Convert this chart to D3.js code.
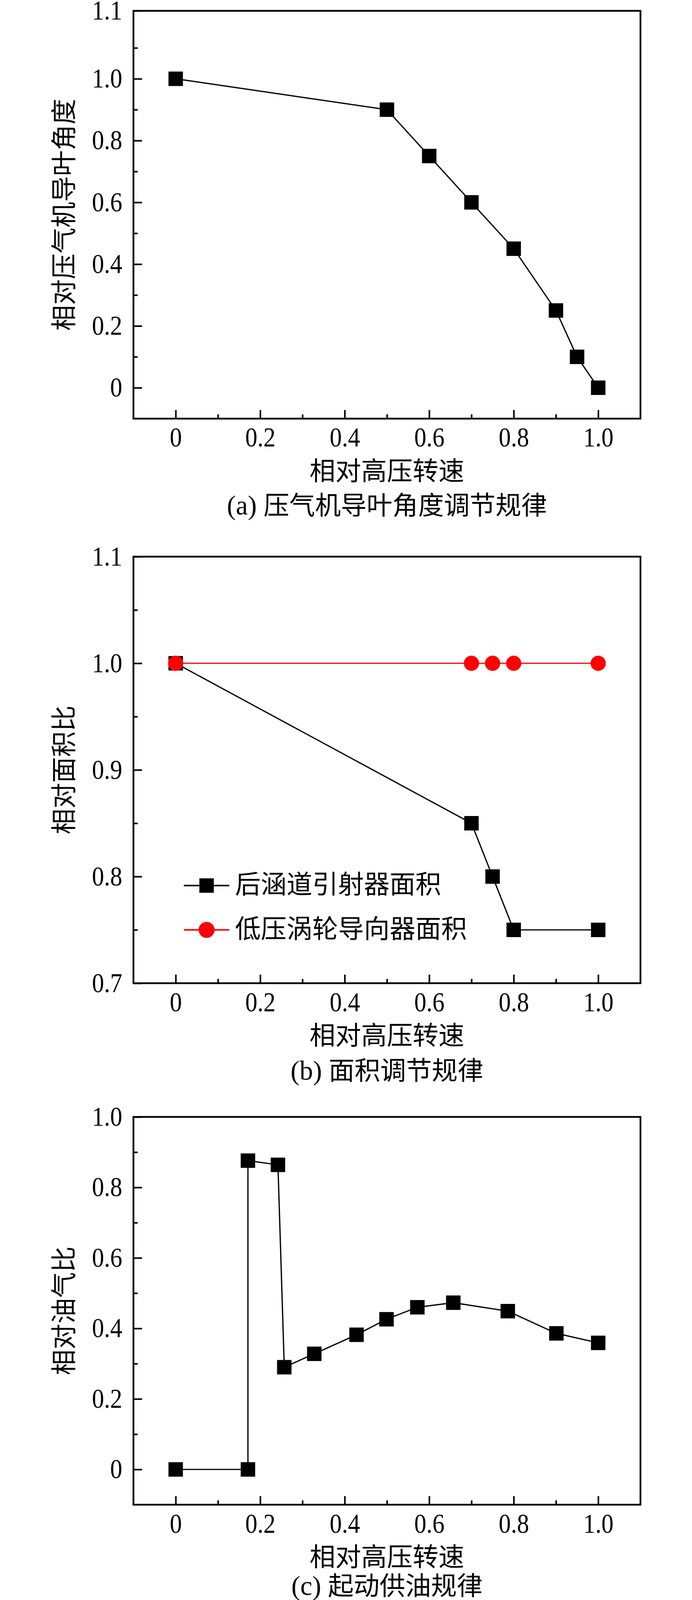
<!DOCTYPE html>
<html>
<head>
<meta charset="utf-8">
<script src="https://cdn.jsdelivr.net/npm/d3@7"></script>
<style>
  body { margin: 0; background: #fff; overflow: hidden; }
  svg { display: block; }
</style>
</head>
<body>
<div id="chart"></div>
<script>
// panel (a) compressor vane angle
const speedA = [0, 0.5, 0.6, 0.7, 0.8, 0.9, 0.95, 1.0];
const vaneA = [1.0, 0.9, 0.75, 0.6, 0.45, 0.25, 0.1, 0];

// panel (b) area schedules
const speedB = [0, 0.7, 0.75, 0.8, 1.0];
const ejectorB = [1.0, 0.85, 0.8, 0.75, 0.75];
const turbineB = [1.0, 1.0, 1.0, 1.0, 1.0];
const seriesNamesB = ['后涵道引射器面积', '低压涡轮导向器面积'];

// panel (c) start fuel schedule
const speedC = [0, 0.171, 0.171, 0.242, 0.257, 0.328, 0.428, 0.499, 0.572, 0.657, 0.786, 0.901, 1.0];
const fuelC = [0, 0, 0.876, 0.864, 0.290, 0.328, 0.382, 0.426, 0.460, 0.473, 0.449, 0.386, 0.359];

// ticks
const xMajor = [0, 0.2, 0.4, 0.6, 0.8, 1.0];
const xMinor = [0.1, 0.3, 0.5, 0.7, 0.9];
const yMajorA = [0, 0.2, 0.4, 0.6, 0.8, 1.0, 1.22];
const yLabelsA = ['0', '0.2', '0.4', '0.6', '0.8', '1.0', '1.1'];
const yMinorA = [0.1, 0.3, 0.5, 0.7, 0.9, 1.1];
const yMajorB = [0.7, 0.8, 0.9, 1.0, 1.1];
const yLabelsB = ['0.7', '0.8', '0.9', '1.0', '1.1'];
const yMinorB = [0.75, 0.85, 0.95, 1.05];
const yMajorC = [0, 0.2, 0.4, 0.6, 0.8, 1.0];
const yLabelsC = ['0', '0.2', '0.4', '0.6', '0.8', '1.0'];
const yMinorC = [0.1, 0.3, 0.5, 0.7, 0.9];

const xTitle = '相对高压转速';

const W = 1772, H = 4115;
const left = 341.7, right = 1640;
const numFont = '"Liberation Serif", "Times New Roman", serif';
const cjkFont = '"Noto Sans CJK SC", sans-serif';
const numSize = 69;
const cjkSize = 66;
const cjkShift = 23; // baseline below visual centre of CJK glyphs

const svg = d3.select('#chart')
  .append('svg')
  .attr('width', W)
  .attr('height', H);

const x = d3.scaleLinear().domain([-0.1, 1.1]).range([left, right]);

function fmtX(d) {
  return d === 0 ? '0' : d3.format('.1f')(d);
}

function drawPanel(opt) {
  const y = d3.scaleLinear().domain(opt.yDomain).range([opt.bottom, opt.top]);
  const g = svg.append('g');

  // x axis, ticks pointing inward
  const xAx = g.append('g')
    .attr('transform', `translate(0,${opt.bottom})`)
    .call(d3.axisBottom(x).tickValues(xMajor).tickFormat(fmtX)
      .tickSizeInner(-22).tickSizeOuter(0).tickPadding(22.6));
  g.append('g')
    .attr('transform', `translate(0,${opt.bottom})`)
    .call(d3.axisBottom(x).tickValues(xMinor).tickFormat('')
      .tickSizeInner(-11).tickSizeOuter(0))
    .select('.domain').remove();

  // y axis
  const yAx = g.append('g')
    .attr('transform', `translate(${left},0)`)
    .call(d3.axisLeft(y).tickValues(opt.yMajor)
      .tickFormat((d, i) => opt.yLabels[i])
      .tickSizeInner(-22).tickSizeOuter(0).tickPadding(31.9));
  g.append('g')
    .attr('transform', `translate(${left},0)`)
    .call(d3.axisLeft(y).tickValues(opt.yMinor).tickFormat('')
      .tickSizeInner(-11).tickSizeOuter(0))
    .select('.domain').remove();

  [xAx, yAx].forEach((ax) => {
    ax.select('.domain').remove();
    ax.selectAll('text')
      .attr('font-family', numFont)
      .attr('font-size', numSize)
      .attr('fill', '#000')
      .attr('transform', 'scale(0.9,1)');
  });
  g.selectAll('.tick line')
    .attr('stroke', '#000')
    .attr('stroke-width', 4);

  // frame
  g.append('rect')
    .attr('x', left)
    .attr('y', opt.top)
    .attr('width', right - left)
    .attr('height', opt.bottom - opt.top)
    .attr('fill', 'none')
    .attr('stroke', '#000')
    .attr('stroke-width', 4.5);

  // axis titles
  const cx = (left + right) / 2;
  g.append('text')
    .attr('x', cx)
    .attr('y', opt.bottom + 134 + cjkShift)
    .attr('text-anchor', 'middle')
    .attr('font-family', cjkFont)
    .attr('font-size', cjkSize)
    .text(xTitle);

  g.append('text')
    .attr('transform', `translate(164,${(opt.top + opt.bottom) / 2}) rotate(-90)`)
    .attr('y', cjkShift)
    .attr('text-anchor', 'middle')
    .attr('font-family', cjkFont)
    .attr('font-size', cjkSize)
    .text(opt.yTitle);

  const cap = g.append('text')
    .attr('x', cx)
    .attr('y', opt.bottom + opt.capOffset + cjkShift)
    .attr('text-anchor', 'middle')
    .attr('font-family', cjkFont)
    .attr('font-size', cjkSize);
  cap.append('tspan').attr('font-family', numFont).attr('font-size', numSize).text(opt.capTag + ' ');
  cap.append('tspan').text(opt.capText);

  return { g, y };
}

function drawSeries(g, y, xs, ys, color, marker) {
  const pts = xs.map((d, i) => [d, ys[i]]);
  const line = d3.line().x((d) => x(d[0])).y((d) => y(d[1]));
  g.append('path')
    .datum(pts)
    .attr('d', line)
    .attr('fill', 'none')
    .attr('stroke', color)
    .attr('stroke-width', 3.2);
  if (marker === 'square') {
    g.selectAll(null)
      .data(pts)
      .enter()
      .append('rect')
      .attr('x', (d) => x(d[0]) - 18.5)
      .attr('y', (d) => y(d[1]) - 18.5)
      .attr('width', 37)
      .attr('height', 37)
      .attr('fill', color);
  } else {
    g.selectAll(null)
      .data(pts)
      .enter()
      .append('circle')
      .attr('cx', (d) => x(d[0]))
      .attr('cy', (d) => y(d[1]))
      .attr('r', 19.5)
      .attr('fill', color);
  }
}

// (a)
const pa = drawPanel({
  top: 27.7, bottom: 1071.7, yDomain: [-0.1, 1.22],
  yMajor: yMajorA, yLabels: yLabelsA, yMinor: yMinorA,
  yTitle: '相对压气机导叶角度', capTag: '(a)', capText: '压气机导叶角度调节规律', capOffset: 222,
});
drawSeries(pa.g, pa.y, speedA, vaneA, '#000', 'square');

// (b)
const pb = drawPanel({
  top: 1425, bottom: 2517, yDomain: [0.7, 1.1],
  yMajor: yMajorB, yLabels: yLabelsB, yMinor: yMinorB,
  yTitle: '相对面积比', capTag: '(b)', capText: '面积调节规律', capOffset: 224,
});
drawSeries(pb.g, pb.y, speedB, ejectorB, '#000', 'square');
drawSeries(pb.g, pb.y, speedB, turbineB, '#ff0000', 'circle');

// legend
const legendColors = ['#000', '#ff0000'];
const legendMarkers = ['square', 'circle'];
const lg = pb.g.append('g').attr('transform', `translate(${left + 129},${1425 + 842})`);
seriesNamesB.forEach((name, i) => {
  const row = lg.append('g').attr('transform', `translate(0,${i * 113.5})`);
  row.append('line')
    .attr('x1', 0).attr('x2', 116.6)
    .attr('stroke', legendColors[i])
    .attr('stroke-width', 4);
  if (legendMarkers[i] === 'square') {
    row.append('rect')
      .attr('x', 58.3 - 18.5).attr('y', -18.5)
      .attr('width', 37).attr('height', 37)
      .attr('fill', legendColors[i]);
  } else {
    row.append('circle')
      .attr('cx', 58.3).attr('cy', 0).attr('r', 20.5)
      .attr('fill', legendColors[i]);
  }
  row.append('text')
    .attr('x', 131)
    .attr('y', -3 + cjkShift)
    .attr('font-family', cjkFont)
    .attr('font-size', cjkSize)
    .text(name);
});

// (c)
const pc = drawPanel({
  top: 2859.3, bottom: 3852, yDomain: [-0.1, 1.0],
  yMajor: yMajorC, yLabels: yLabelsC, yMinor: yMinorC,
  yTitle: '相对油气比', capTag: '(c)', capText: '起动供油规律', capOffset: 208,
});
drawSeries(pc.g, pc.y, speedC, fuelC, '#000', 'square');
</script>
</body>
</html>
